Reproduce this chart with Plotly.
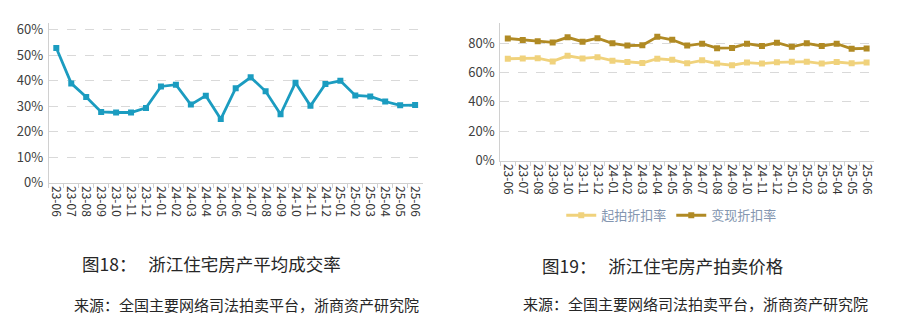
import plotly.graph_objects as go

months = ["23-06", "23-07", "23-08", "23-09", "23-10", "23-11", "23-12",
          "24-01", "24-02", "24-03", "24-04", "24-05", "24-06", "24-07",
          "24-08", "24-09", "24-10", "24-11", "24-12", "25-01", "25-02",
          "25-03", "25-04", "25-05", "25-06"]

deal_rate = [0.528, 0.389, 0.336, 0.277, 0.275, 0.275, 0.293, 0.377, 0.384,
             0.306, 0.341, 0.249, 0.370, 0.413, 0.358, 0.268, 0.392, 0.301,
             0.387, 0.399, 0.342, 0.338, 0.318, 0.303, 0.304]

start_discount = [0.693, 0.695, 0.697, 0.675, 0.713, 0.695, 0.704, 0.680,
                  0.671, 0.664, 0.693, 0.686, 0.662, 0.682, 0.660, 0.649,
                  0.667, 0.660, 0.669, 0.673, 0.673, 0.660, 0.671, 0.662,
                  0.667]

realize_discount = [0.831, 0.820, 0.813, 0.804, 0.839, 0.809, 0.833, 0.798,
                    0.783, 0.785, 0.842, 0.822, 0.783, 0.796, 0.765, 0.767,
                    0.796, 0.780, 0.802, 0.774, 0.798, 0.780, 0.796, 0.761,
                    0.763]

left_ticks = [0, 0.1, 0.2, 0.3, 0.4, 0.5, 0.6]
right_ticks = [0, 0.2, 0.4, 0.6, 0.8]

FONT = "Noto Sans CJK SC"
W, H = 900, 328

def px_x(p):
    return p / W

def px_y(p):
    return 1 - p / H

fig = go.Figure()

fig.add_trace(go.Scatter(
    x=months, y=deal_rate, mode="lines+markers",
    line=dict(color="#1b9cc0", width=2.8),
    marker=dict(symbol="square", size=6, color="#1b9cc0"),
    xaxis="x", yaxis="y", showlegend=False, name="平均成交率"))

fig.add_trace(go.Scatter(
    x=months, y=start_discount, mode="lines+markers", name="起拍折扣率",
    line=dict(color="#f0d27c", width=2.8),
    marker=dict(symbol="square", size=6, color="#f0d27c"),
    xaxis="x2", yaxis="y2"))

fig.add_trace(go.Scatter(
    x=months, y=realize_discount, mode="lines+markers", name="变现折扣率",
    line=dict(color="#b08a24", width=2.8),
    marker=dict(symbol="square", size=6, color="#b08a24"),
    xaxis="x2", yaxis="y2"))

grid = "#d9d9d9"
axis_line = "#d0d0d0"
tick_font = dict(family=FONT, size=12, color="#333333")

xcommon = dict(type="category", tickangle=90, showgrid=False,
               showline=True, linecolor=axis_line, linewidth=1,
               ticks="outside", tickson="boundaries", ticklen=4,
               tickcolor=axis_line, tickfont=tick_font,
               range=[-0.5, 24.5], zeroline=False)

fig.update_layout(
    width=W, height=H,
    margin=dict(l=0, r=0, t=0, b=0),
    paper_bgcolor="white", plot_bgcolor="white",
    font=dict(family=FONT),
    xaxis=dict(domain=[px_x(49), px_x(424)], anchor="y", **xcommon),
    yaxis=dict(domain=[px_y(186), px_y(20)], anchor="x",
               range=[0, 0.625], tickvals=left_ticks, tickformat=".0%",
               showgrid=True, gridcolor=grid, griddash="dash", gridwidth=1,
               showline=True, linecolor=axis_line, zeroline=False,
               tickfont=dict(family=FONT, size=13, color="#404040"),
               ticks="", ticklabelstandoff=2),
    xaxis2=dict(domain=[px_x(502), px_x(877)], anchor="y2", **xcommon),
    yaxis2=dict(domain=[px_y(163), px_y(20)], anchor="x2",
                range=[0, 0.935], tickvals=right_ticks, tickformat=".0%",
                showgrid=True, gridcolor=grid, griddash="dash", gridwidth=1,
                showline=True, linecolor=axis_line, zeroline=False,
                tickfont=dict(family=FONT, size=13, color="#404040"),
                ticks="", ticklabelstandoff=2),
    legend=dict(orientation="h", x=px_x(674), y=px_y(220),
                xanchor="center", yanchor="middle",
                font=dict(family=FONT, size=13, color="#8496b0"),
                itemwidth=30, bgcolor="rgba(0,0,0,0)", tracegroupgap=0),
)

cap_font = dict(family=FONT, size=17.5, color="#262626")
src_font = dict(family=FONT, size=15, color="#262626")

fig.add_annotation(text="图18：&nbsp;&nbsp;&nbsp;浙江住宅房产平均成交率",
                   xref="paper", yref="paper", x=px_x(80), y=px_y(270),
                   xanchor="left", yanchor="middle", showarrow=False,
                   font=cap_font)
fig.add_annotation(text="来源：全国主要网络司法拍卖平台，浙商资产研究院",
                   xref="paper", yref="paper", x=px_x(72), y=px_y(313),
                   xanchor="left", yanchor="middle", showarrow=False,
                   font=src_font)
fig.add_annotation(text="图19：&nbsp;&nbsp;&nbsp;浙江住宅房产拍卖价格",
                   xref="paper", yref="paper", x=px_x(542), y=px_y(272),
                   xanchor="left", yanchor="middle", showarrow=False,
                   font=cap_font)
fig.add_annotation(text="来源：全国主要网络司法拍卖平台，浙商资产研究院",
                   xref="paper", yref="paper", x=px_x(523), y=px_y(312),
                   xanchor="left", yanchor="middle", showarrow=False,
                   font=src_font)

fig.write_html("out.html")
